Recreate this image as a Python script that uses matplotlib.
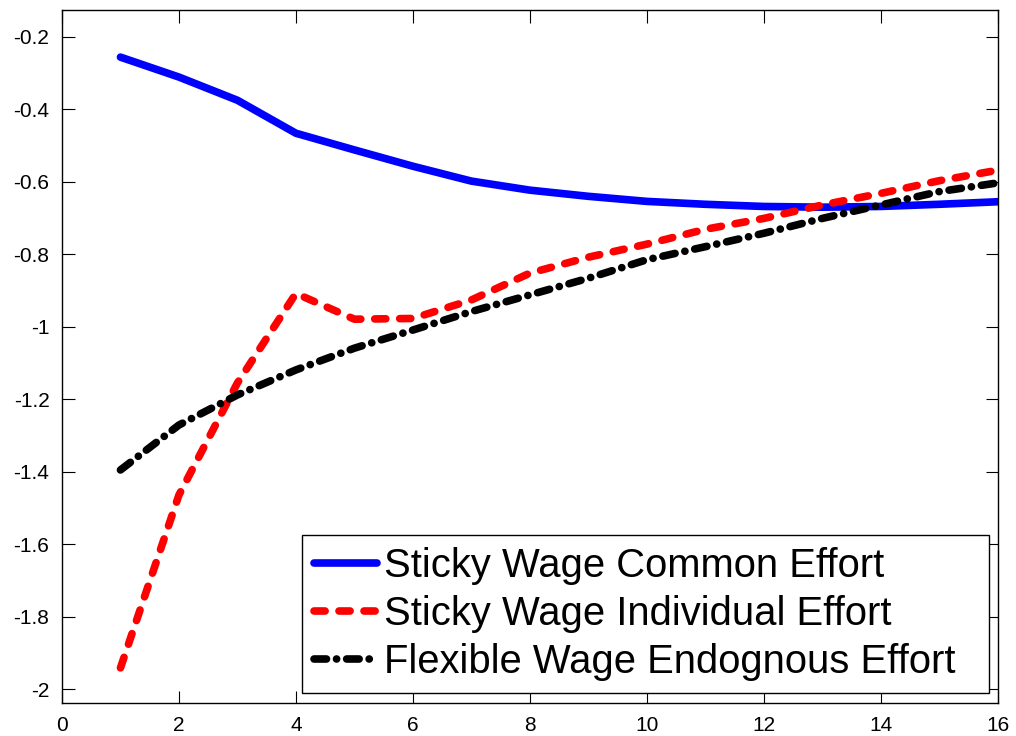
import matplotlib
matplotlib.use("Agg")
from matplotlib import pyplot as plt

plt.rcParams['font.family'] = ['Liberation Sans', 'DejaVu Sans']
plt.rcParams['lines.scale_dashes'] = False

periods = [1, 2, 3, 4, 5, 6, 7, 8, 9, 10, 11, 12, 13, 14, 15, 16]
common_effort = [-0.256, -0.311, -0.375, -0.466, -0.512, -0.557, -0.598, -0.623, -0.640,
                 -0.654, -0.662, -0.668, -0.670, -0.668, -0.662, -0.655]
individual_effort = [-1.941, -1.464, -1.155, -0.908, -0.979, -0.977, -0.926, -0.852, -0.808,
                     -0.772, -0.731, -0.701, -0.664, -0.632, -0.597, -0.568]
flexible_effort = [-1.395, -1.271, -1.188, -1.119, -1.059, -1.009, -0.958, -0.912, -0.866,
                   -0.815, -0.779, -0.742, -0.701, -0.664, -0.627, -0.603]
labels = ['Sticky Wage Common Effort', 'Sticky Wage Individual Effort',
          'Flexible Wage Endognous Effort']

fig = plt.figure(figsize=(10.16, 7.36), dpi=100)
ax = fig.add_axes([0.061, 0.0448, 0.921, 0.9416])

lw = 5.5
ax.plot(periods, common_effort, color='blue', lw=lw, solid_capstyle='round',
        solid_joinstyle='round', label=labels[0] + '  ')
ax.plot(periods, individual_effort, color='red', lw=lw, linestyle=(0, (8, 10)),
        dash_capstyle='round', dash_joinstyle='round', label=labels[1] + '  ')
ax.plot(periods, flexible_effort, color='black', lw=lw, linestyle=(0, (9, 7.2, 0.1, 7.2)),
        dash_capstyle='round', dash_joinstyle='round', label=labels[2] + '  ')

ax.set_xlim(0, 16)
ax.set_ylim(-2.038, -0.126)
ax.set_xticks(range(0, 17, 2))
yt = [-2, -1.8, -1.6, -1.4, -1.2, -1, -0.8, -0.6, -0.4, -0.2]
ax.set_yticks(yt)
ax.set_yticklabels(['%g' % v for v in yt])
ax.tick_params(direction='in', length=9, width=0.8, labelsize=15, pad=9,
               top=True, right=True)
for s in ax.spines.values():
    s.set_linewidth(1.0)

leg = ax.legend(loc='lower right', bbox_to_anchor=(0.991, 0.0144), borderaxespad=0,
                fontsize=28.8, handlelength=1.56, handletextpad=0.17, labelspacing=0.25,
                borderpad=0.3, fancybox=False, framealpha=1, edgecolor='black')
leg.get_frame().set_linewidth(1.0)

fig.savefig('out.png', dpi=100)
